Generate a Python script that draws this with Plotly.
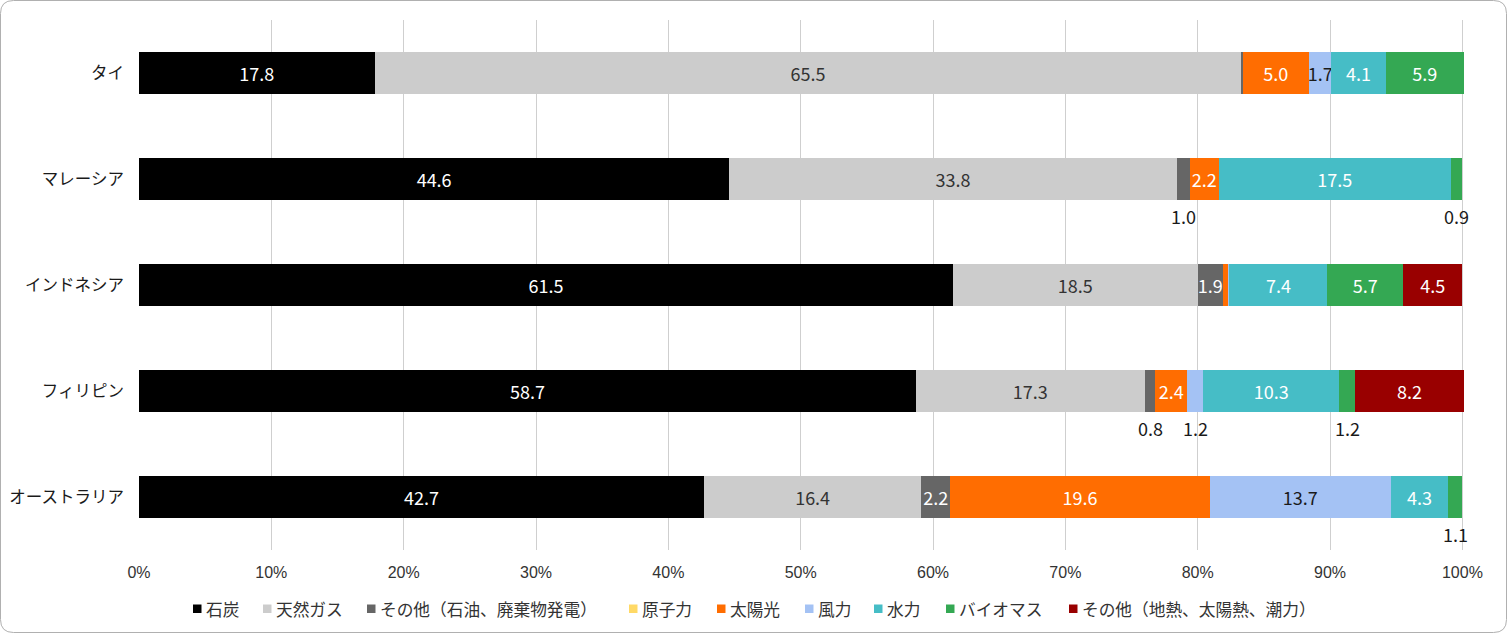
import plotly.graph_objects as go

# 発電電力量構成比（%）
countries = ["タイ", "マレーシア", "インドネシア", "フィリピン", "オーストラリア"]

coal = [17.8, 44.6, 61.5, 58.7, 42.7]
gas = [65.5, 33.8, 18.5, 17.3, 16.4]
other_fossil = [0.1, 1.0, 1.9, 0.8, 2.2]
nuclear = [0.0, 0.0, 0.0, 0.0, 0.0]
solar = [5.0, 2.2, 0.4, 2.4, 19.6]
wind = [1.7, 0.0, 0.1, 1.2, 13.7]
hydro = [4.1, 17.5, 7.4, 10.3, 4.3]
biomass = [5.9, 0.9, 5.7, 1.2, 1.1]
other_renew = [0.0, 0.0, 4.5, 8.2, 0.0]

tick_vals = [0, 10, 20, 30, 40, 50, 60, 70, 80, 90, 100]
tick_text = ["0%", "10%", "20%", "30%", "40%", "50%", "60%", "70%", "80%", "90%", "100%"]

series = [
    ("石炭", coal, "#000000", "white"),
    ("天然ガス", gas, "#cccccc", "#333333"),
    ("その他（石油、廃棄物発電）", other_fossil, "#666666", "white"),
    ("原子力", nuclear, "#ffd966", "#333333"),
    ("太陽光", solar, "#ff6d01", "white"),
    ("風力", wind, "#a4c2f4", "#1a1a1a"),
    ("水力", hydro, "#46bdc6", "white"),
    ("バイオマス", biomass, "#34a853", "white"),
    ("その他（地熱、太陽熱、潮力）", other_renew, "#990000", "white"),
]

# left edge (px) of each legend entry, legend drawn by hand so the
# colour swatch sits right next to its label
legend_px = [193, 263, 367, 629, 717, 805, 874, 946, 1069]

FONT = "Noto Sans CJK JP, Noto Sans, sans-serif"
W, H = 1508, 634
L, R, T, B = 139, 44, 20, 84


def px_x(p):
    return (p - L) / (W - L - R)


def px_y(p):
    return (H - B - p) / (H - T - B)


fig = go.Figure()
annotations = []
shapes = []
left = [0.0] * len(countries)

for k, (name, vals, color, txt_color) in enumerate(series):
    labels = []
    for i, v in enumerate(vals):
        if v >= 1.5:
            labels.append(f"{v:.1f}")
        else:
            labels.append("")
            if v >= 0.5:
                # small segments get their label just under the bar
                annotations.append(dict(
                    x=left[i] + v / 2, y=countries[i], xref="x", yref="y",
                    text=f"{v:.1f}", showarrow=False, yshift=-37,
                    font=dict(family=FONT, size=18, color="#1a1a1a"),
                ))
        left[i] += v
    fig.add_trace(go.Bar(
        y=countries, x=vals, name=name, orientation="h",
        marker=dict(color=color, line=dict(width=0)),
        text=labels, textposition="inside", insidetextanchor="middle",
        textangle=0, constraintext="none",
        textfont=dict(family=FONT, size=18, color=txt_color),
        cliponaxis=False, showlegend=False,
    ))

    # legend entry
    lx = legend_px[k]
    shapes.append(dict(
        type="rect", xref="paper", yref="paper",
        x0=px_x(lx), x1=px_x(lx + 8.5), y0=px_y(613), y1=px_y(604.5),
        fillcolor=color, line=dict(width=0),
    ))
    annotations.append(dict(
        x=px_x(lx + 11), y=px_y(608.5), xref="paper", yref="paper",
        xanchor="left", yanchor="middle", text=name, showarrow=False,
        font=dict(family=FONT, size=16.7, color="#333333"),
    ))


# rounded frame around the whole chart
x0, x1, y0, y1, r = 0.5, W - 1.5, 0.5, H - 1.5, 13
frame = (
    f"M {px_x(x0 + r)},{px_y(y0)} L {px_x(x1 - r)},{px_y(y0)} "
    f"Q {px_x(x1)},{px_y(y0)} {px_x(x1)},{px_y(y0 + r)} "
    f"L {px_x(x1)},{px_y(y1 - r)} Q {px_x(x1)},{px_y(y1)} {px_x(x1 - r)},{px_y(y1)} "
    f"L {px_x(x0 + r)},{px_y(y1)} Q {px_x(x0)},{px_y(y1)} {px_x(x0)},{px_y(y1 - r)} "
    f"L {px_x(x0)},{px_y(y0 + r)} Q {px_x(x0)},{px_y(y0)} {px_x(x0 + r)},{px_y(y0)} Z"
)
shapes.append(dict(
    type="path", path=frame, xref="paper", yref="paper",
    line=dict(color="#b0b0b0", width=1), fillcolor="rgba(0,0,0,0)", layer="below",
))

fig.update_layout(
    width=W, height=H,
    barmode="stack", bargap=0.6,
    margin=dict(l=L, r=R, t=T, b=B),
    paper_bgcolor="white", plot_bgcolor="white",
    font=dict(family=FONT, size=14, color="#333333"),
    showlegend=False,
    xaxis=dict(
        range=[0, 100.12], tickvals=tick_vals, ticktext=tick_text,
        showgrid=True, gridcolor="#cfcfcf", gridwidth=1,
        zeroline=False, showline=False, ticks="",
        ticklabelstandoff=11, automargin=False,
        tickfont=dict(family="Liberation Sans, Arial, sans-serif", size=16, color="#333333"),
        fixedrange=True,
    ),
    yaxis=dict(
        categoryorder="array", categoryarray=countries, autorange="reversed",
        showgrid=False, zeroline=False, showline=False, ticks="",
        ticklabelstandoff=14, automargin=False,
        tickfont=dict(family=FONT, size=16.5, color="#1a1a1a"),
        fixedrange=True,
    ),
    annotations=annotations,
    shapes=shapes,
)

fig.write_html(
    "out.html",
    config={"displayModeBar": False},
    post_script="document.body.style.margin='0';",
)
